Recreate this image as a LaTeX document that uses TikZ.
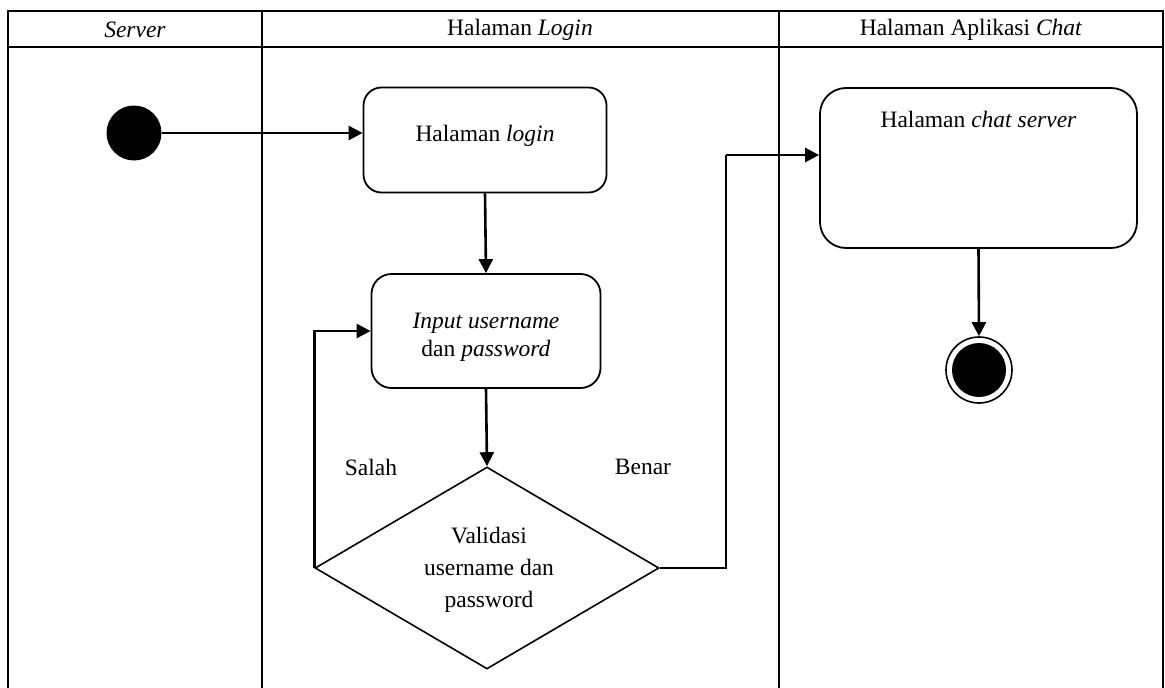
\documentclass[tikz,border=0pt]{standalone}
\usepackage{fontspec}
\setmainfont{Liberation Serif}
\usetikzlibrary{arrows.meta,shapes.geometric}
\begin{document}
\begin{tikzpicture}[x=1pt,y=-1pt,
  every node/.style={font=\fontsize{23.5}{28}\selectfont},
  every label/.style={inner sep=0pt, align=center},
  lane/.style={line width=1.1pt},
  act/.style={draw, line width=1.8pt, rounded corners=18pt, inner sep=0pt, align=center},
  flow/.style={line width=2.6pt, -{Triangle[length=14pt,width=14pt]}},
  link/.style={line width=2.6pt},
  txt/.style={inner sep=0pt, align=center}]
\useasboundingbox (0,0) rectangle (1165,688);

% swimlane frame
\draw[lane] (8,688) -- (8,11) -- (1163,11) -- (1163,688);
\draw[lane] (8,47) -- (1163,47);
\draw[lane] (262,11) -- (262,688);
\draw[lane] (779,11) -- (779,688);
\node[txt] (h1) at (135,30) {\textit{Server}};
\node[txt] (h2) at (520,30) {Halaman \textit{Login}};
\node[txt] (h3) at (971,30) {Halaman Aplikasi \textit{Chat}};

% start
\node[circle, fill=black, minimum size=55pt, inner sep=0pt] (start) at (134,133) {};

% activities
\node[act, minimum width=243pt, minimum height=105pt,
      label={[yshift=4pt]center:Halaman \textit{login}}] (login) at (485,140) {};
\node[act, minimum width=229pt, minimum height=114pt, rounded corners=20pt,
      label={[yshift=-6pt]center:\textit{Input username}\\dan \textit{password}}] (input) at (486,331) {};
\node[act, minimum width=317pt, minimum height=160pt, rounded corners=26pt,
      label={[anchor=north, yshift=-24pt]north:Halaman \textit{chat server}}] (chat) at (978.5,168) {};

% decision
\node[diamond, draw, line width=1.6pt, minimum width=344pt, minimum height=202pt, inner sep=0pt] (valid) at (487,568) {};
\node[txt, font=\fontsize{23.5}{32}\selectfont] (vtext) at (489,570) {Validasi\\username dan\\password};

% end
\node[circle, draw, line width=1.6pt, minimum size=66pt, inner sep=0pt] (end) at (979,370) {};
\fill (end.center) circle (27pt);

% guards
\node[txt] (salah) at (371,467) {Salah};
\node[txt] (benar) at (643,467) {Benar};

% flows
\draw[flow] (start) -- (login.west |- start);
\draw[flow] (login.south) -- (input.north);
\draw[flow] (input.south) -- (valid.north);
\draw[flow] (valid.west) |- (input.west);
\coordinate (bend) at (726,155);
\draw[link] (valid.east) -| (bend);
\draw[flow] (bend) -- (chat.west |- bend);
\draw[flow] (chat.south) -- (end.north);
\end{tikzpicture}
\end{document}
